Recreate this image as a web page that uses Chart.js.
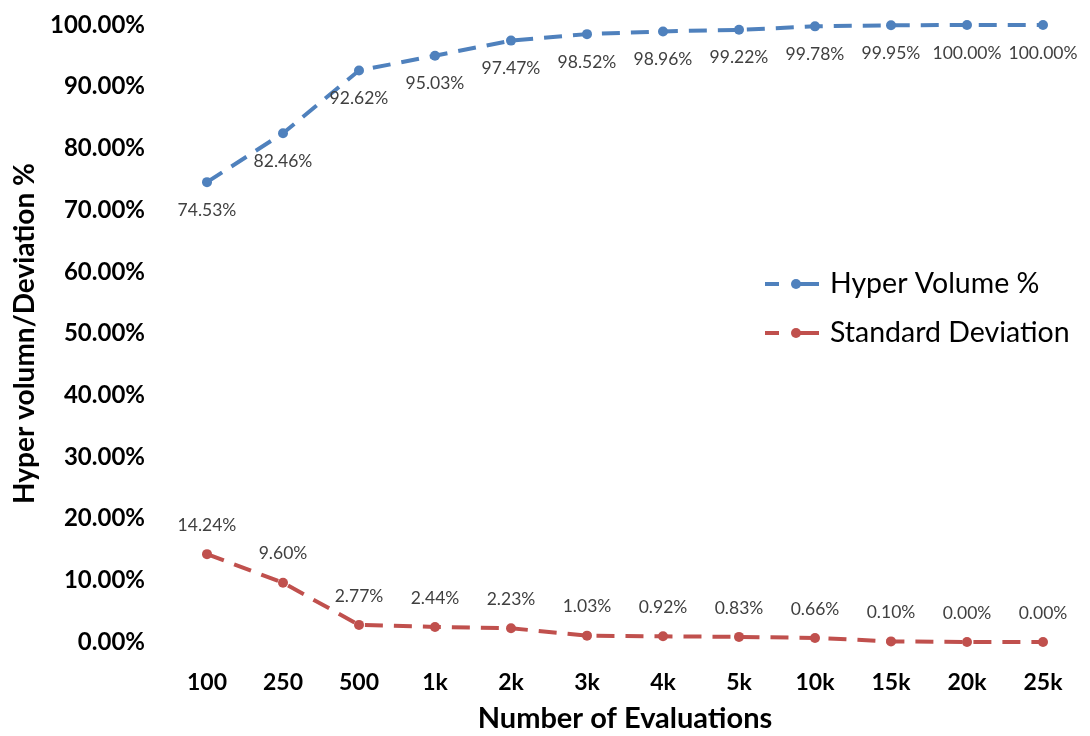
<!DOCTYPE html>
<html>
<head>
<meta charset="utf-8">
<script src="https://cdn.jsdelivr.net/npm/chart.js@4.4.1/dist/chart.umd.min.js"></script>
<style>
    html, body { margin: 0; padding: 0; background: #fff; }
    #wrap { width: 1090px; height: 736px; position: relative; }
</style>
</head>
<body>
<div id="wrap"><canvas id="eval-chart"></canvas></div>
<script>
const evaluations = ['100', '250', '500', '1k', '2k', '3k', '4k', '5k', '10k', '15k', '20k', '25k'];
const hyperVolume = [74.53, 82.46, 92.62, 95.03, 97.47, 98.52, 98.96, 99.22, 99.78, 99.95, 100.00, 100.00];
const stdDeviation = [14.24, 9.60, 2.77, 2.44, 2.23, 1.03, 0.92, 0.83, 0.66, 0.10, 0.00, 0.00];
const seriesNames = ['Hyper Volume %', 'Standard Deviation'];
const yMin = 0, yMax = 100, yStep = 10;

const BLUE = '#4F81BD';
const RED = '#C0504D';
const FONT = 'Lato, "Open Sans", sans-serif';

// value labels: hyper volume below the point, deviation above it
const valueLabels = {
    id: 'valueLabels',
    afterDatasetsDraw(chart) {
        let ctx = chart.ctx;
        ctx.save();
        ctx.font = '17.5px ' + FONT;
        ctx.fillStyle = '#404040';
        ctx.textAlign = 'center';
        ctx.textBaseline = 'middle';
        chart.data.datasets.forEach(function (ds, i) {
            let meta = chart.getDatasetMeta(i);
            let shift = i === 0 ? 28 : -29;
            meta.data.forEach(function (pt, j) {
                ctx.fillText(ds.data[j].toFixed(2) + '%', pt.x, pt.y + shift);
            });
        });
        ctx.restore();
    }
};

// legend drawn inside the plot, dashed line with a dot like the series
const insideLegend = {
    id: 'insideLegend',
    afterDraw(chart) {
        let ctx = chart.ctx;
        ctx.save();
        chart.data.datasets.forEach(function (ds, i) {
            let y = 284 + i * 49;
            ctx.strokeStyle = ds.borderColor;
            ctx.lineWidth = 4;
            ctx.setLineDash([]);
            ctx.beginPath();
            ctx.moveTo(765, y); ctx.lineTo(779, y);
            ctx.moveTo(793, y); ctx.lineTo(819, y);
            ctx.stroke();
            ctx.fillStyle = ds.borderColor;
            ctx.beginPath();
            ctx.arc(796, y, 5, 0, Math.PI * 2);
            ctx.fill();
            ctx.fillStyle = '#000';
            ctx.font = '28.5px ' + FONT;
            ctx.textAlign = 'left';
            ctx.textBaseline = 'middle';
            ctx.fillText(ds.label, 830, y);
        });
        ctx.restore();
    }
};

function lineSet(label, data, color) {
    return {
        label: label,
        data: data,
        borderColor: color,
        backgroundColor: color,
        borderWidth: 4,
        borderDash: [18, 11],
        pointRadius: 5,
        pointHoverRadius: 5,
        pointBorderWidth: 0,
        tension: 0,
        clip: false,
    };
}

let ctx = document.getElementById('eval-chart').getContext('2d');
let evalChart = new Chart(ctx, {
    type: 'line',
    data: {
        labels: evaluations,
        datasets: [
            lineSet(seriesNames[0], hyperVolume, BLUE),
            lineSet(seriesNames[1], stdDeviation, RED),
        ],
    },
    options: {
        responsive: true,
        maintainAspectRatio: false,
        animation: false,
        layout: { autoPadding: false, padding: { top: 25, right: 9, bottom: 0, left: 0 } },
        plugins: {
            legend: { display: false },
            tooltip: { enabled: false },
        },
        scales: {
            x: {
                offset: true,
                grid: { display: false, drawTicks: false },
                border: { display: false },
                ticks: {
                    padding: 27,
                    color: '#000',
                    font: { family: FONT, size: 23, weight: 'bold' },
                },
                title: {
                    display: true,
                    text: 'Number of Evaluations',
                    color: '#000',
                    font: { family: FONT, size: 29, weight: 'bold' },
                    padding: { top: 0, bottom: 0 },
                },
                afterFit: function (scale) { scale.height = 94; },
            },
            y: {
                min: yMin,
                max: yMax,
                grid: { display: false, drawTicks: false },
                border: { display: false },
                ticks: {
                    stepSize: yStep,
                    padding: 24,
                    color: '#000',
                    font: { family: FONT, size: 24, weight: 'bold' },
                    callback: function (v) { return v.toFixed(2) + '%'; },
                },
                title: {
                    display: true,
                    text: 'Hyper volumn/Deviation %',
                    color: '#000',
                    font: { family: FONT, size: 28, weight: 'bold' },
                    padding: { top: 8, bottom: 0 },
                },
                afterFit: function (scale) {
                    scale.width = 169;
                    // tick padding is otherwise added above the plot too
                    scale.paddingTop = 0;
                    scale.paddingBottom = 0;
                },
            },
        },
    },
    plugins: [valueLabels, insideLegend],
});
</script>
</body>
</html>
